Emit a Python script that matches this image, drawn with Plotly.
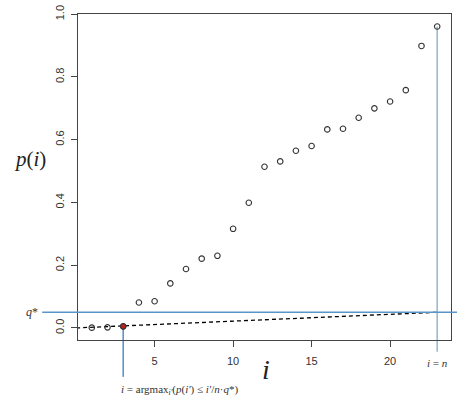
import plotly.graph_objects as go

# Data
i_vals = list(range(1, 24))
p_vals = [0.001, 0.002, 0.005, 0.081, 0.085, 0.142, 0.188, 0.221, 0.230, 0.316,
          0.399, 0.514, 0.531, 0.565, 0.580, 0.633, 0.635, 0.670, 0.700, 0.722,
          0.758, 0.899, 0.961]
n = len(i_vals)
q_star = 0.05
i_star = 3
x_ticks = [5, 10, 15, 20]
y_ticks = [0.0, 0.2, 0.4, 0.6, 0.8, 1.0]
y_tick_labels = ["0.0", "0.2", "0.4", "0.6", "0.8", "1.0"]

serif = "Liberation Serif, Times New Roman, serif"
sans = "Liberation Sans, Arial, Helvetica, sans-serif"
blue = "#5a95c8"
light_blue = "#9cbad2"

y_lo, y_hi = -0.0384, 1.0008


def yfrac(v):
    return (v - y_lo) / (y_hi - y_lo)


fig = go.Figure()

# BH threshold line (dashed) from origin to (n, q*)
fig.add_trace(go.Scatter(
    x=[0, n], y=[0, q_star], mode="lines",
    line=dict(color="black", width=1.3, dash="4px,3px"),
    hoverinfo="skip", showlegend=False))

# open circle points
fig.add_trace(go.Scatter(
    x=i_vals, y=p_vals, mode="markers",
    marker=dict(symbol="circle-open", size=5.5, color="#333333", line=dict(width=1.1)),
    showlegend=False, cliponaxis=False))

# highlighted point
fig.add_trace(go.Scatter(
    x=[i_star], y=[p_vals[i_star - 1]], mode="markers",
    marker=dict(symbol="circle", size=5.5, color="#b22222", line=dict(color="#333333", width=1)),
    showlegend=False, cliponaxis=False))

shapes = [
    # q* horizontal line extending beyond the plot
    dict(type="line", xref="paper", yref="y", x0=-0.096, x1=1.02, y0=q_star, y1=q_star,
         line=dict(color=blue, width=1.3)),
    # vertical line at i*
    dict(type="line", xref="x", yref="paper", x0=i_star, x1=i_star,
         y0=-0.113, y1=yfrac(p_vals[i_star - 1]),
         line=dict(color=blue, width=1.6), layer="below"),
    # vertical line at i = n
    dict(type="line", xref="x", yref="paper", x0=n, x1=n,
         y0=-0.036, y1=yfrac(p_vals[n - 1]),
         line=dict(color=light_blue, width=1.6), layer="below"),
]

annotations = [
    dict(text="<i>p</i>(<i>i</i>)", xref="paper", yref="y", x=-0.128, y=0.54,
         showarrow=False, font=dict(family=serif, size=21, color="#222"),
         xanchor="center", yanchor="middle"),
    dict(text="<i>i</i>", xref="paper", yref="paper", x=0.505, y=-0.09,
         showarrow=False, font=dict(family=serif, size=28, color="#222"),
         xanchor="center", yanchor="middle"),
    dict(text="<i>q</i>*", xref="paper", yref="y", x=-0.102, y=q_star,
         showarrow=False, font=dict(family=serif, size=12, color="#333"),
         xanchor="right", yanchor="middle"),
    dict(text="<i>i</i> = <i>n</i>", xref="x", yref="paper", x=n, y=-0.07,
         showarrow=False, font=dict(family=serif, size=11, color="#333"),
         xanchor="center", yanchor="middle"),
    dict(text="<i>i</i> = argmax<sub><i>i'</i></sub>(<i>p</i>(<i>i'</i>) ≤ <i>i'</i>/<i>n</i>·<i>q</i>*)",
         xref="x", yref="paper", x=i_star, y=-0.152, xshift=-4,
         showarrow=False, font=dict(family=serif, size=11, color="#333"),
         xanchor="left", yanchor="middle"),
]

fig.update_layout(
    width=457, height=399,
    margin=dict(l=78, r=5, t=6, b=59),
    paper_bgcolor="white", plot_bgcolor="white",
    shapes=shapes, annotations=annotations,
    font=dict(family=sans, size=11, color="#333"),
    xaxis=dict(range=[0.12, 23.88], tickvals=x_ticks, ticks="outside", ticklen=6,
               tickcolor="#444", showgrid=False, zeroline=False,
               showline=True, linecolor="#444", linewidth=1, mirror=True,
               ticklabelstandoff=5,
               tickfont=dict(family=sans, size=11, color="#333")),
    yaxis=dict(range=[y_lo, y_hi], tickvals=y_ticks, ticktext=y_tick_labels,
               ticks="outside", ticklen=6, tickcolor="#444", tickangle=-90,
               showgrid=False, zeroline=False,
               showline=True, linecolor="#444", linewidth=1, mirror=True,
               ticklabelstandoff=3, ticklabeloverflow="allow",
               tickfont=dict(family=sans, size=11, color="#333")),
)

fig.write_html("out.html")
